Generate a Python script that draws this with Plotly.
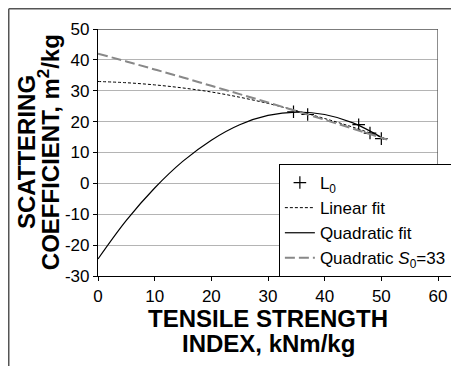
import plotly.graph_objects as go

# Measured points (L0)
l0_x = [34.5, 37.0, 46.0, 48.0, 50.0]
l0_y = [23.2, 22.3, 19.0, 16.3, 14.5]

# Linear fit curve
lin_x = [0, 5, 10, 15, 20, 25, 30, 34.5, 40, 45, 50, 51]
lin_y = [33.0, 32.6, 31.9, 30.9, 29.6, 27.9, 25.9, 23.8, 21.0, 18.2, 15.0, 14.3]

# Quadratic fit curve
quad_x = [0, 5, 10, 15, 20, 25, 30, 35, 40, 45, 50, 50.5]
quad_y = [-24.5, -12.0, -1.5, 7.2, 14.0, 19.0, 22.0, 23.1, 22.3, 19.6, 14.9, 14.3]

# Quadratic S0=33 curve
qs_x = [0, 5, 10, 15, 20, 25, 30, 35, 40, 45, 50, 51]
qs_y = [42.0, 39.5, 36.9, 34.3, 31.6, 28.9, 26.2, 23.4, 20.6, 17.7, 14.8, 14.2]

x_ticks = [0, 10, 20, 30, 40, 50, 60]
y_ticks = [-30, -20, -10, 0, 10, 20, 30, 40, 50]
y_labels = ["-30", "-20", "-10", "0", "10", "20", "30", "40", "50"]

x_title = ["TENSILE STRENGTH", "INDEX, kNm/kg"]
y_title = ["SCATTERING", "COEFFICIENT, m<sup>2</sup>/kg"]

narrow = "Liberation Sans Narrow, Liberation Sans, Arial, sans-serif"
sans = "Liberation Sans, Arial, sans-serif"

fig = go.Figure()
fig.add_trace(go.Scatter(x=l0_x, y=l0_y, mode="markers", name="L<sub>0</sub>",
                         marker=dict(symbol="cross-thin", size=9, line=dict(width=1.2, color="black"), color="black")))
fig.add_trace(go.Scatter(x=lin_x, y=lin_y, mode="lines", name="Linear fit", line_shape="spline",
                         line=dict(color="black", width=1, dash="3px,2px")))
fig.add_trace(go.Scatter(x=quad_x, y=quad_y, mode="lines", name="Quadratic fit", line_shape="spline",
                         line=dict(color="black", width=1.2)))
fig.add_trace(go.Scatter(x=qs_x, y=qs_y, mode="lines", name="Quadratic <i>S</i><sub>0</sub>=33", line_shape="spline",
                         line=dict(color="#888888", width=2, dash="10px,4px")))

annotations = [
    dict(text="<b>%s</b>" % x_title[0], xref="paper", yref="paper", x=0.5, y=-0.172,
         xanchor="center", yanchor="middle", showarrow=False, font=dict(family=sans, size=24)),
    dict(text="<b>%s</b>" % x_title[1], xref="paper", yref="paper", x=0.5, y=-0.272,
         xanchor="center", yanchor="middle", showarrow=False, font=dict(family=sans, size=24)),
    dict(text="<b>%s</b>" % y_title[0], xref="paper", yref="paper", x=-0.21, y=0.5, textangle=-90,
         xanchor="center", yanchor="middle", showarrow=False, font=dict(family=sans, size=24)),
    dict(text="<b>%s</b>" % y_title[1], xref="paper", yref="paper", x=-0.145, y=0.5, textangle=-90,
         xanchor="center", yanchor="middle", showarrow=False, font=dict(family=sans, size=24)),
]

fig.update_layout(
    width=451, height=366,
    margin=dict(l=98, r=13, t=29, b=90, autoexpand=False),
    paper_bgcolor="white", plot_bgcolor="white",
    font=dict(family=sans, size=14, color="black"),
    showlegend=True,
    legend=dict(x=0.532, y=0.2247, xanchor="left", yanchor="middle",
                bgcolor="white", bordercolor="black", borderwidth=1,
                font=dict(family=narrow, size=17), tracegroupgap=0, itemwidth=30),
    annotations=annotations,
    shapes=[
        dict(type="line", xref="paper", yref="paper", x0=-0.2625, x1=1.05, y0=1.082, y1=1.082,
             layer="above", line=dict(color="#555555", width=1.5)),
        dict(type="line", xref="paper", yref="paper", x0=-0.2625, x1=-0.2625, y0=1.082, y1=-0.4,
             layer="above", line=dict(color="#555555", width=1.5)),
        dict(type="line", xref="paper", yref="y", x0=0, x1=1, y0=50, y1=50,
             line=dict(color="#505050", width=1.3)),
        dict(type="line", xref="x", yref="paper", x0=60, x1=60, y0=0, y1=1,
             line=dict(color="#505050", width=1.3)),
    ],
)
fig.update_xaxes(range=[0, 60], tickvals=x_ticks, ticks="outside", ticklen=4, tickcolor="black",
                 showline=True, linecolor="black", linewidth=1.2, showgrid=False, zeroline=False,
                 automargin=False, tickfont=dict(family=sans, size=17))
fig.update_yaxes(range=[-30, 50], tickvals=y_ticks, ticktext=y_labels, ticks="outside", ticklen=4,
                 tickcolor="black",
                 showline=True, linecolor="black", linewidth=1.2, showgrid=True, gridcolor="#b4b4b4",
                 gridwidth=1, zeroline=False, automargin=False, tickfont=dict(family=sans, size=17))

fig.write_html("out.html", config={"displayModeBar": False},
               post_script="document.body.style.margin='0px';document.body.style.overflow='hidden';")
